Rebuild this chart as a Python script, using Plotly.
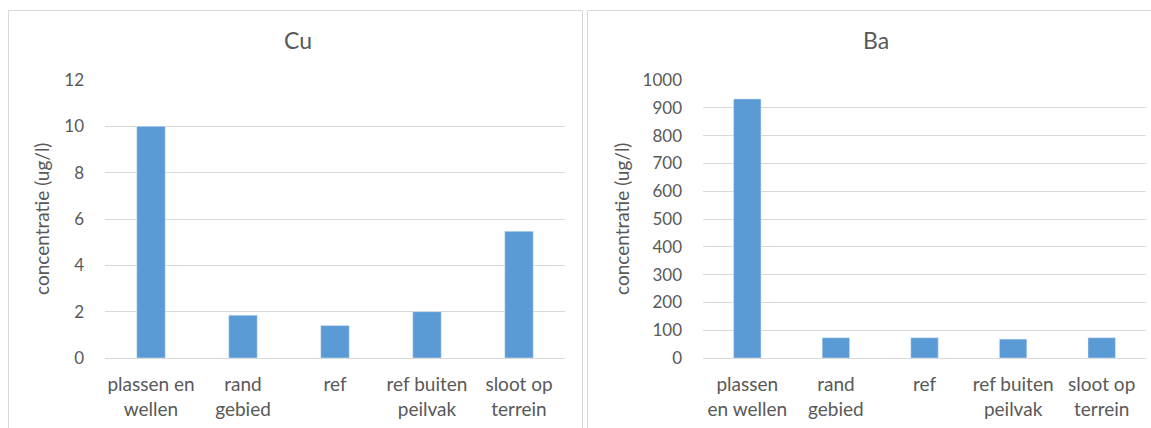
import plotly.graph_objects as go

# Measured concentrations per sampling location
locations_cu = ["plassen en<br>wellen", "rand<br>gebied", "ref", "ref buiten<br>peilvak", "sloot op<br>terrein"]
locations_ba = ["plassen<br>en wellen", "rand<br>gebied", "ref", "ref buiten<br>peilvak", "sloot op<br>terrein"]
cu_values = [10.0, 1.85, 1.4, 2.0, 5.47]
ba_values = [932, 73, 73, 68, 73]

cu_ticks = [0, 2, 4, 6, 8, 10, 12]
ba_ticks = [0, 100, 200, 300, 400, 500, 600, 700, 800, 900, 1000]

W, H = 1151, 428
FONT = "Lato, 'Open Sans', sans-serif"
TEXT = "#595959"
GRID = "#d9d9d9"
BAR = "#5b9bd5"

def px_x(v):
    return v / W

def px_y(v):
    return 1 - v / H

fig = go.Figure()
fig.add_trace(go.Bar(x=locations_cu, y=cu_values, marker_color=BAR,
                     xaxis="x", yaxis="y", showlegend=False))
fig.add_trace(go.Bar(x=locations_ba, y=ba_values, marker_color=BAR,
                     xaxis="x2", yaxis="y2", showlegend=False))

ydom = [px_y(358), px_y(80)]
yaxis_common = dict(showgrid=True, gridcolor=GRID, gridwidth=1, zeroline=True,
                    zerolinecolor=GRID, zerolinewidth=1, showline=False,
                    automargin=False,
                    tickfont=dict(family=FONT, size=17, color=TEXT),
                    ticklabelstandoff=20, domain=ydom)
xaxis_common = dict(showgrid=False, showline=False, zeroline=False,
                    automargin=False,
                    tickfont=dict(family=FONT, size=19, color=TEXT),
                    ticklabelstandoff=13)

fig.update_layout(
    width=W, height=H,
    margin=dict(l=0, r=0, t=0, b=0),
    paper_bgcolor="white", plot_bgcolor="white",
    bargap=0.69,
    xaxis=dict(xaxis_common, domain=[px_x(105), px_x(565)], anchor="y"),
    xaxis2=dict(xaxis_common, domain=[px_x(703), px_x(1146)], anchor="y2"),
    yaxis=dict(yaxis_common, range=[0, 12], tickvals=cu_ticks, anchor="x"),
    yaxis2=dict(yaxis_common, range=[0, 1000], tickvals=ba_ticks, anchor="x2"),
    shapes=[
        dict(type="rect", xref="paper", yref="paper",
             x0=px_x(8.5), x1=px_x(582.5), y0=px_y(440), y1=px_y(10.5),
             line=dict(color=GRID, width=1), fillcolor="rgba(0,0,0,0)", layer="below"),
        dict(type="rect", xref="paper", yref="paper",
             x0=px_x(587.5), x1=px_x(1165), y0=px_y(440), y1=px_y(10.5),
             line=dict(color=GRID, width=1), fillcolor="rgba(0,0,0,0)", layer="below"),
    ],
    annotations=[
        dict(text="Cu", x=px_x(298), y=px_y(40), xref="paper", yref="paper",
             showarrow=False, xanchor="center", yanchor="middle",
             font=dict(family=FONT, size=23, color=TEXT)),
        dict(text="Ba", x=px_x(876), y=px_y(40), xref="paper", yref="paper",
             showarrow=False, xanchor="center", yanchor="middle",
             font=dict(family=FONT, size=23, color=TEXT)),
        dict(text="concentratie (ug/l)", x=px_x(41), y=px_y(219), xref="paper", yref="paper",
             showarrow=False, textangle=-90, xanchor="center", yanchor="middle",
             font=dict(family=FONT, size=19, color=TEXT)),
        dict(text="concentratie (ug/l)", x=px_x(621), y=px_y(219), xref="paper", yref="paper",
             showarrow=False, textangle=-90, xanchor="center", yanchor="middle",
             font=dict(family=FONT, size=19, color=TEXT)),
    ],
)

fig.write_html("out.html")
